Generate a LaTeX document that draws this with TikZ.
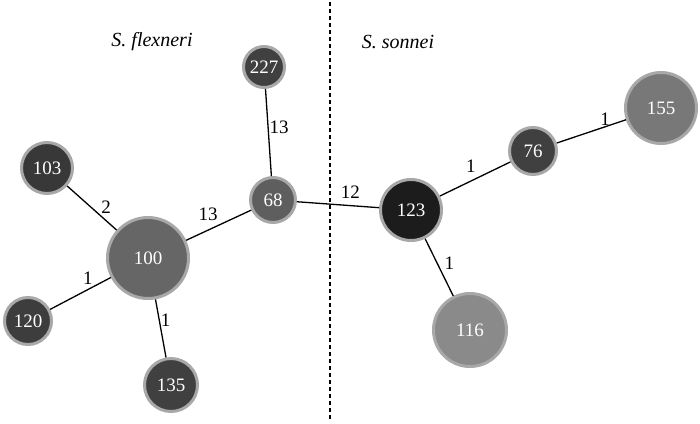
\documentclass[tikz,border=0pt]{standalone}
\usepackage{fontspec}
\setmainfont{LiberationSerif}[Extension=.ttf, UprightFont=*-Regular, ItalicFont=*-Italic, BoldFont=*-Bold]
\usepackage{tikz}
\tikzset{strain/.style={circle, draw={rgb,255:red,168;green,168;blue,168}, line width=3pt, text=white, inner sep=0pt, font=\fontsize{19}{19}\selectfont}}
\tikzset{link/.style={line width=1.3pt, black}}
\tikzset{dist/.style={inner sep=1pt, font=\fontsize{19}{19}\selectfont}}
\tikzset{species/.style={font=\fontsize{20}{20}\selectfont\itshape}}

\begin{document}
\begin{tikzpicture}[x=1pt, y=1pt]
    \useasboundingbox (0, 0) rectangle (700, -423);
    % divider
    \draw[line width=2.5pt, dash pattern=on 4pt off 3pt] (330, -2) -- (330, -421);
    \node[species] (flex) at (152, -42) {S. flexneri};
    \node[species] (sonn) at (398, -42) {S. sonnei};
    % strains
    \node[strain, fill=black!75, minimum size=41pt] (s227) at (264, -67) {227};
    \node[strain, fill=black!78, minimum size=51pt] (s103) at (47, -168) {103};
    \node[strain, fill=black!63, minimum size=45pt] (s68) at (273, -200) {68};
    \node[strain, fill=black!60, minimum size=81pt] (s100) at (148, -258) {100};
    \node[strain, fill=black!76, minimum size=47pt] (s120) at (28, -321) {120};
    \node[strain, fill=black!75, minimum size=53pt] (s135) at (171, -385) {135};
    \node[strain, fill=black!89, minimum size=61pt] (s123) at (411, -210) {123};
    \node[strain, fill=black!75, minimum size=47pt] (s76) at (533, -151) {76};
    \node[strain, fill=black!53, minimum size=71pt] (s155) at (661, -108) {155};
    \node[strain, fill=black!46, minimum size=73pt] (s116) at (470, -330) {116};
    % links
    \draw[link] (s227) -- node[dist, pos=0.435, right] {13} (s68);
    \draw[link] (s103) -- node[dist, pos=0.66, above right] {2} (s100);
    \draw[link] (s100) -- node[dist, pos=0.34, above=8pt] {13} (s68);
    \draw[link] (s68) -- node[dist, pos=0.65, above=5pt] {12} (s123);
    \draw[link] (s100) -- node[dist, pos=0.38, above=3pt] {1} (s120);
    \draw[link] (s100) -- node[dist, pos=0.36, right] {1} (s135);
    \draw[link] (s123) -- node[dist, pos=0.44, above=7pt] {1} (s76);
    \draw[link] (s76) -- node[dist, pos=0.70, above] {1} (s155);
    \draw[link] (s123) -- node[dist, pos=0.42, right=6pt] {1} (s116);
\end{tikzpicture}
\end{document}
